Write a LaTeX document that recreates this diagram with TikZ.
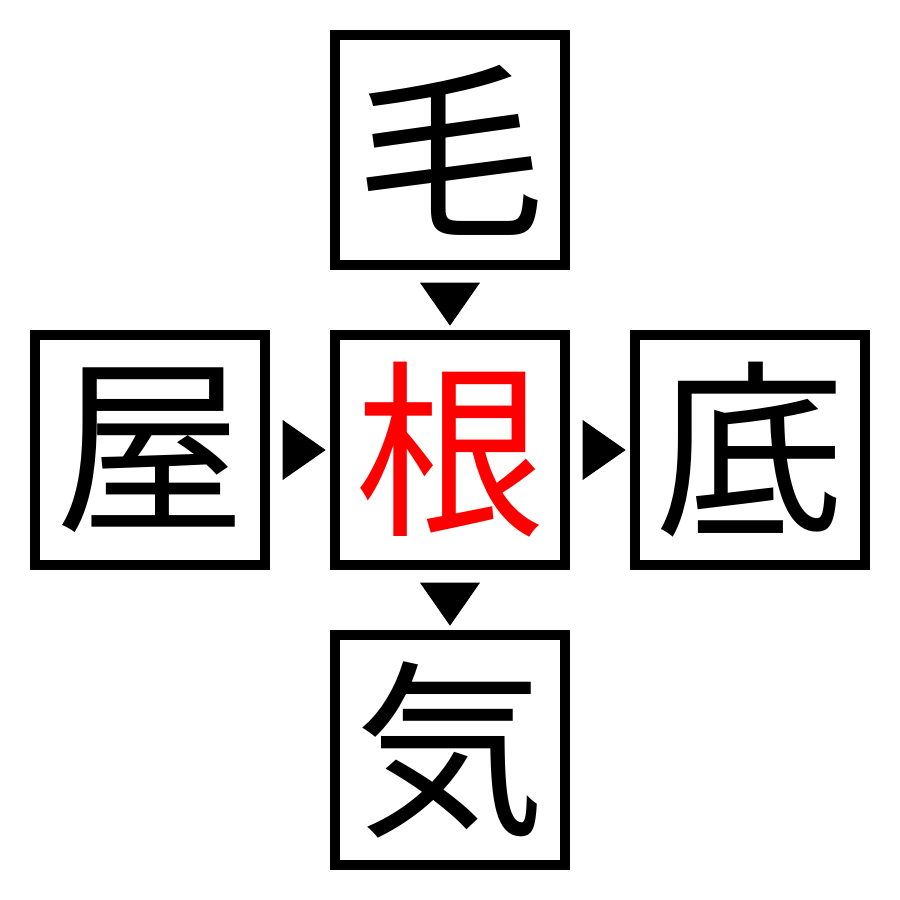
\documentclass[tikz,border=0pt]{standalone}
\usepackage{fontspec}
\newfontfamily\cjk{Noto Sans CJK JP}
\usetikzlibrary{positioning,shapes.geometric}
\tikzset{
	node distance=0.6cm,
	kanji/.style = {draw, line width=0.1cm, minimum size=2.3cm, inner sep=0pt, font=\cjk\fontsize{54}{54}\selectfont},
	tri/.style = {isosceles triangle, isosceles triangle stretches, fill=black, inner sep=0pt, minimum width=0.6cm, minimum height=0.43cm, anchor=lower side, pos=0.2}
}

\begin{document}
\begin{tikzpicture}
	\useasboundingbox (-4.5,-4.5) rectangle (4.5,4.5);
	\node (gen) [kanji, text=red] {根};
	\node (ke) [kanji, above=of gen] {毛};
	\node (ya) [kanji, left=of gen] {屋};
	\node (soko) [kanji, right=of gen] {底};
	\node (ki) [kanji, below=of gen] {気};
	\path (ke) -- node[tri, rotate=-90] {} (gen);
	\path (ya) -- node[tri] {} (gen);
	\path (gen) -- node[tri] {} (soko);
	\path (gen) -- node[tri, rotate=-90] {} (ki);
\end{tikzpicture}
\end{document}
